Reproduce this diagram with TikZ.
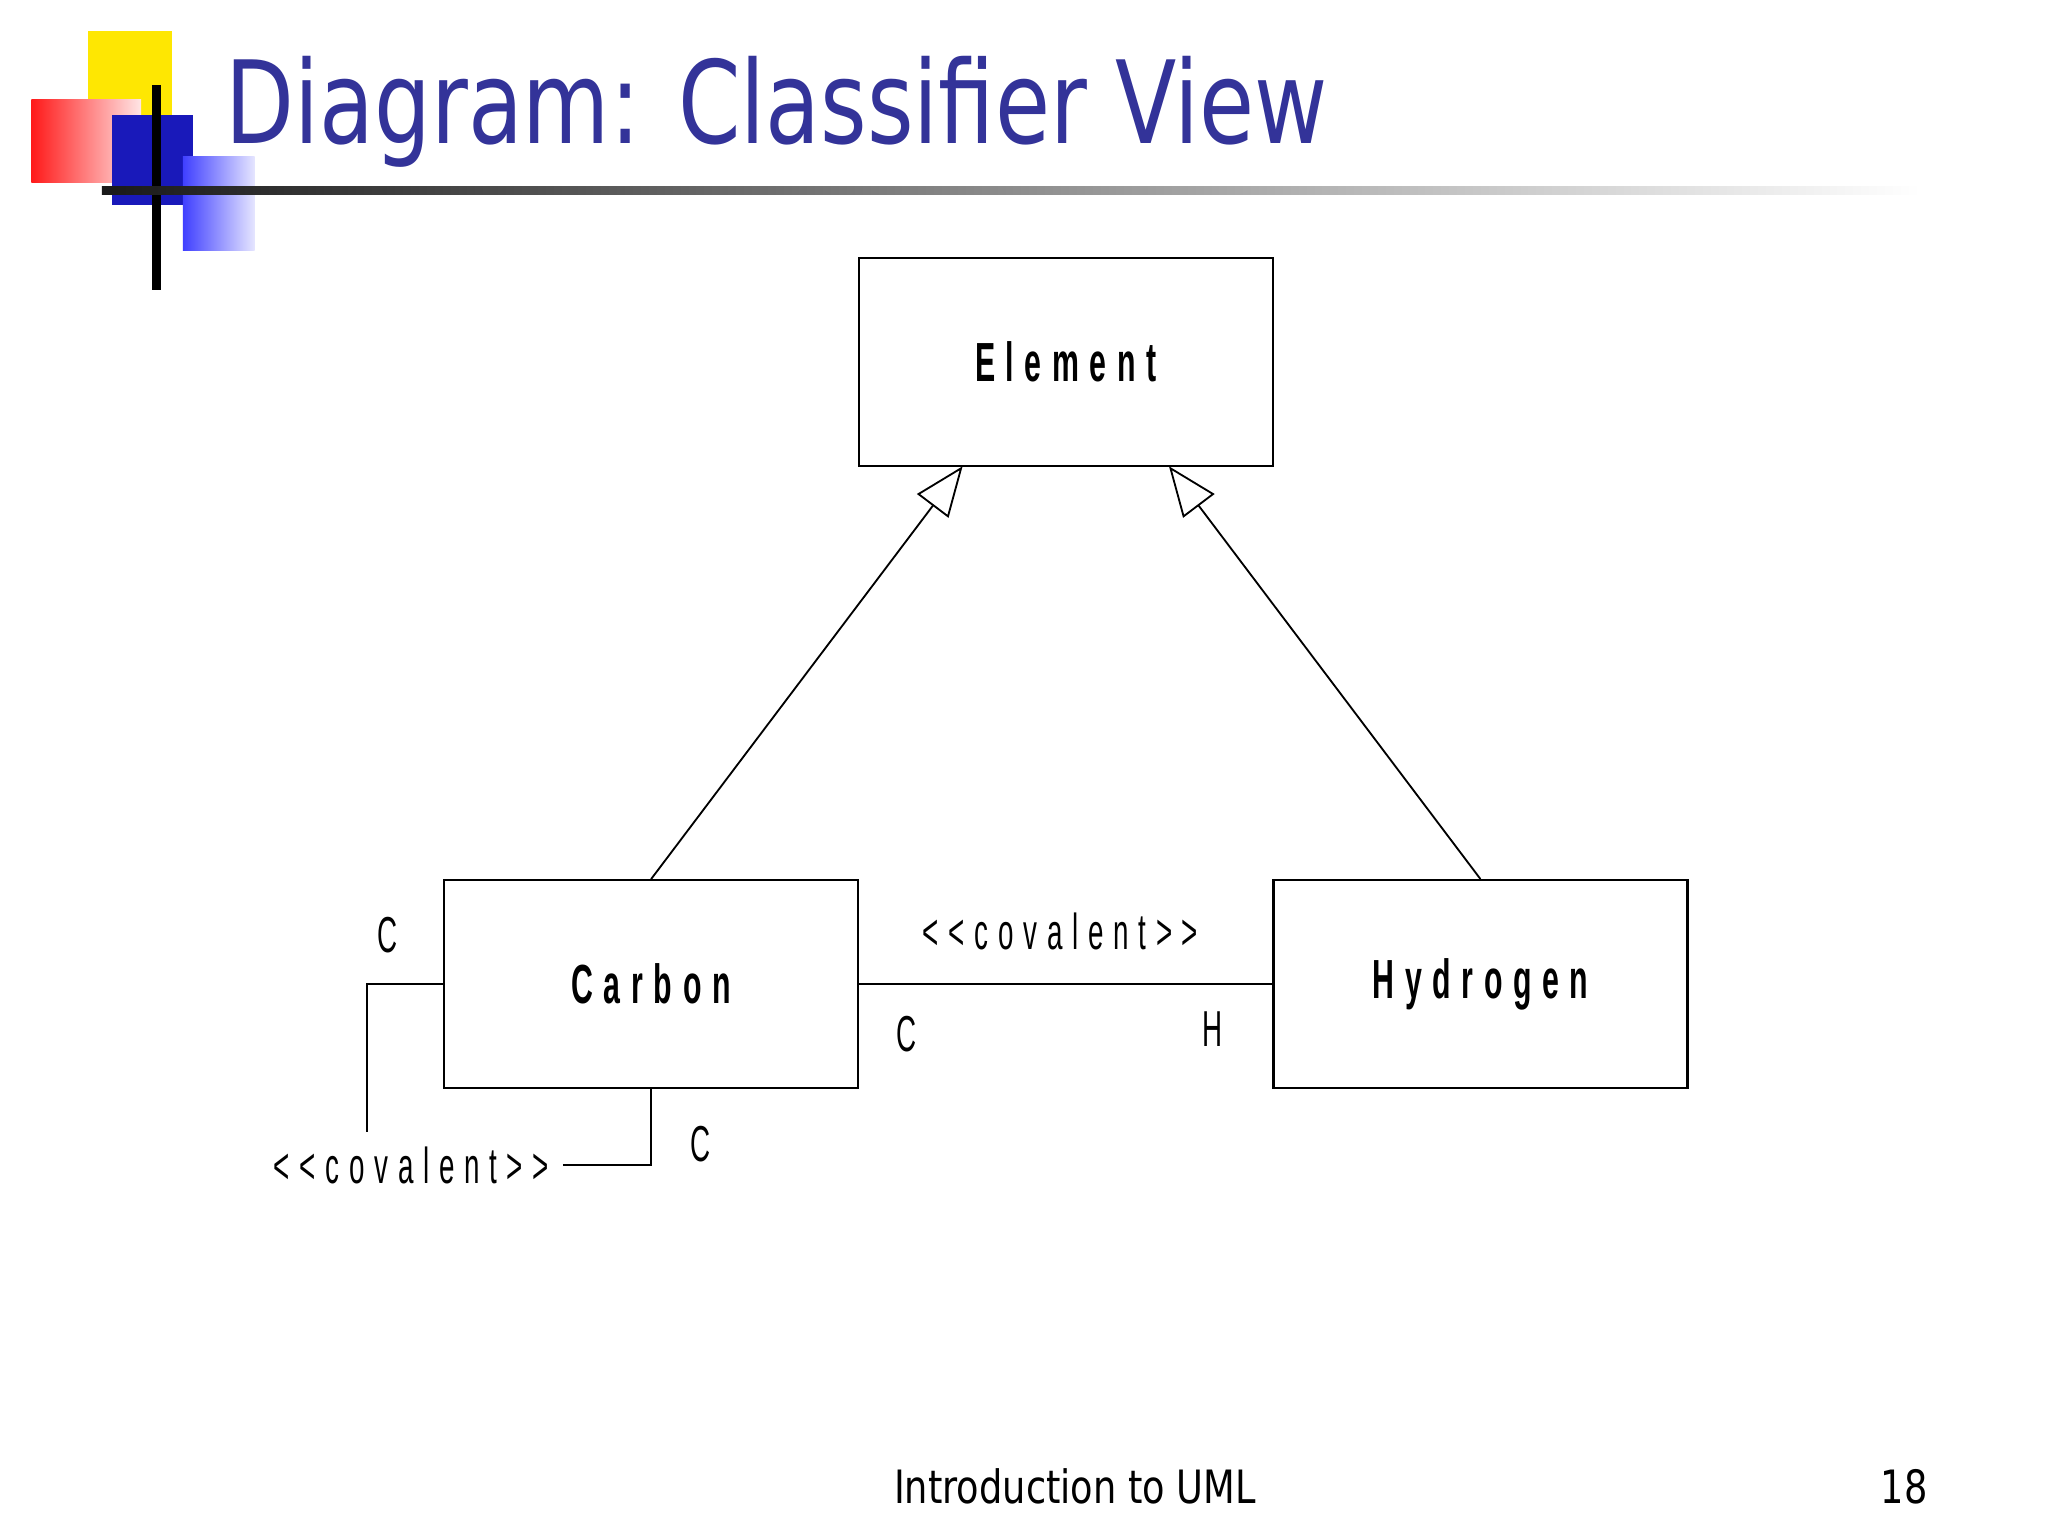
\documentclass[tikz,border=0pt]{standalone}
\usepackage{fontspec}
\setmainfont{DejaVu Sans}
\newfontfamily\uml[LetterSpace=35]{Liberation Sans}
\usetikzlibrary{arrows.meta}
\definecolor{titleblue}{HTML}{333399}
\tikzset{
  cls/.style={draw,line width=0.5pt,minimum width=3.17cm,minimum height=1.59cm,inner sep=0},
  lbl/.style={font=\uml\fontsize{11}{13}\selectfont,inner sep=0},
  gen/.style={line width=0.4pt,-{Triangle[open,length=0.38cm,width=0.3cm]}},
  assoc/.style={line width=0.5pt}
}
\newcommand{\cond}[1]{\scalebox{0.55}[1]{#1}}
\begin{document}
\begin{tikzpicture}[x=0.01cm,y=-0.01cm]
\fill[white] (0,0) rectangle (1568,1176);
% logo
\fill[yellow!90!orange] (67,24) rectangle (132,88);
\shade[left color=red!90, right color=red!10] (24,76) rectangle (108,140);
\fill[blue!70!black!90!white] (86,88) rectangle (148,157);
\shade[left color=blue!75, right color=blue!10] (140,120) rectangle (195,192);
\draw[line width=2pt] (120,65) -- (120,222);
\shade[left color=black!90, right color=white] (78,143) rectangle (1470,149);
\node[anchor=west,text=titleblue,font=\fontsize{25}{30}\selectfont,inner sep=0] (title) at (172,86) {\scalebox{0.78}[1]{Diagram: Classifier View}};
% classes
\node[cls] (el) at (816,277) {\cond{\uml\bfseries\fontsize{12}{14}\selectfont Element}};
\node[cls] (ca) at (498.5,753.5) {\cond{\uml\bfseries\fontsize{12}{14}\selectfont Carbon}};
\node[cls] (hy) at (1133.5,753.5) {\cond{\uml\bfseries\fontsize{12}{14}\selectfont Hydrogen}};
\draw[gen] (ca.north) -- (737,357) coordinate (g1);
\draw[gen] (hy.north) -- (895,357) coordinate (g2);
\draw[assoc] (ca.east) -- (hy.west);
\node[lbl] (l1) at (812,713) {\cond{<<covalent>>}};
\node[lbl] (c1) at (694,792) {\cond{C}};
\node[lbl] (h1) at (928,788) {\cond{H}};
% self association
\node[lbl] (l2) at (315,892) {\cond{<<covalent>>}};
\coordinate (s1) at (281,867);
\coordinate (s2) at (431,892);
\draw[assoc] (ca.west) -| (s1);
\draw[assoc] (s2) -| (ca.south);
\node[lbl] (c2) at (297,716) {\cond{C}};
\node[lbl] (c3) at (536,876) {\cond{C}};
% footer
\node[font=\fontsize{10}{13}\selectfont,inner sep=0] (ft) at (823,1138) {\scalebox{0.8}[1]{Introduction to UML}};
\node[font=\fontsize{10}{13}\selectfont,inner sep=0] (pg) at (1458,1138) {\scalebox{0.8}[1]{18}};
\end{tikzpicture}
\end{document}
